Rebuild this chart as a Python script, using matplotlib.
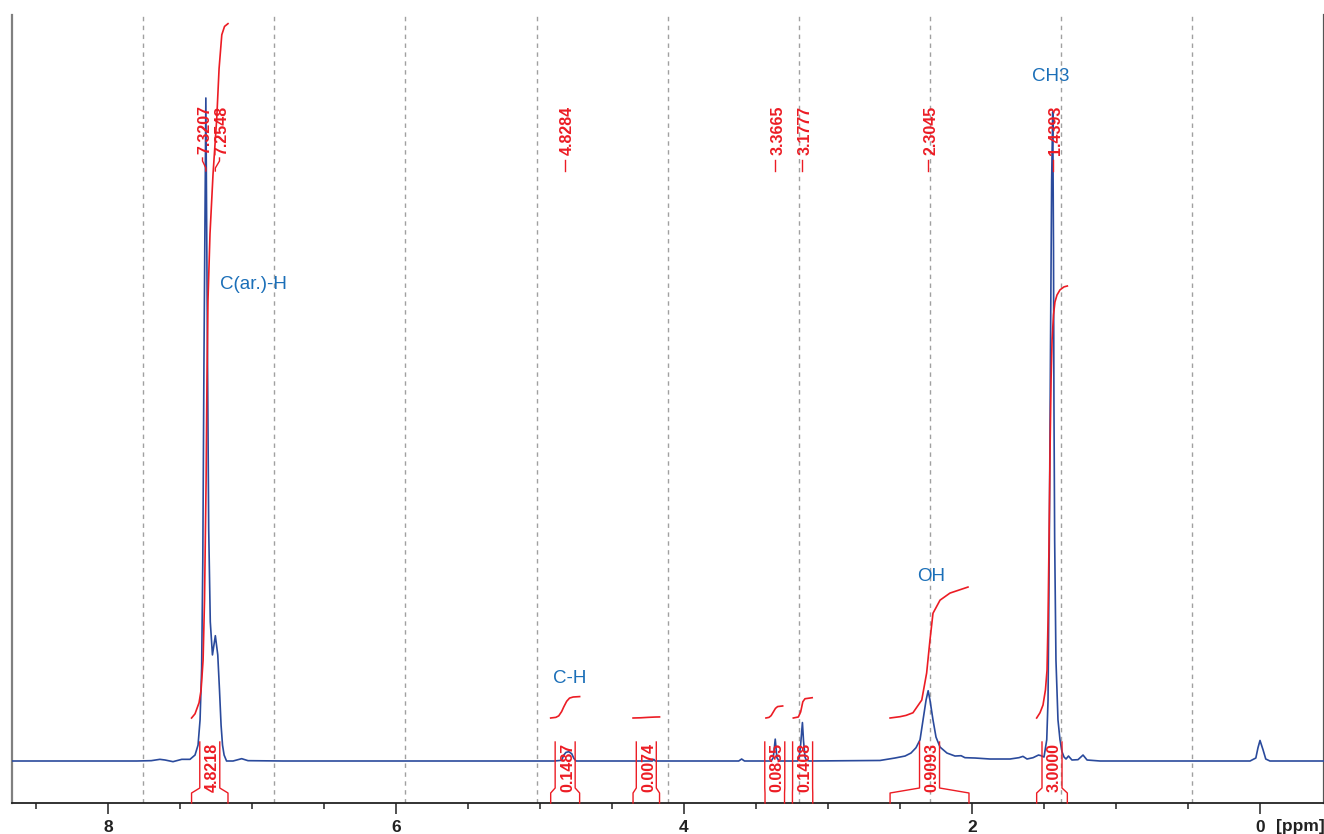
import matplotlib
matplotlib.use("Agg")
import matplotlib.pyplot as plt
from matplotlib.ticker import MultipleLocator, FixedLocator
import matplotlib.transforms as mtransforms

plt.rcParams['font.family'] = ['Liberation Sans', 'DejaVu Sans']

# ---------------- data ----------------
# 1H NMR spectrum (chemical shift in ppm, relative intensity, main peak = 100)
spec_ppm = [8.667, 7.80, 7.70, 7.64, 7.604, 7.549, 7.488, 7.431, 7.396, 7.375, 7.361,
            7.350, 7.342, 7.334, 7.3207, 7.309, 7.301, 7.290, 7.275, 7.2548, 7.238,
            7.226, 7.215, 7.205, 7.194, 7.177, 7.132, 7.072, 7.028, 6.785,
            4.90, 4.85, 4.835, 4.82, 4.80, 4.78, 4.765, 4.75,
            4.22, 4.21, 4.20, 3.62, 3.60, 3.58,
            3.395, 3.380, 3.3665, 3.355, 3.34,
            3.21, 3.20, 3.19, 3.1777, 3.17, 3.16, 3.15, 3.13,
            2.639, 2.535, 2.465, 2.424, 2.389, 2.361, 2.340, 2.319, 2.3045, 2.292,
            2.271, 2.250, 2.222, 2.174, 2.118, 2.076, 2.049, 1.979, 1.875, 1.736,
            1.674, 1.646, 1.618, 1.576, 1.538, 1.521,
            1.500, 1.481, 1.472, 1.463, 1.455, 1.447, 1.4393, 1.434, 1.431, 1.426,
            1.417, 1.403, 1.389, 1.375, 1.361, 1.347, 1.330, 1.306, 1.264, 1.229,
            1.201, 1.111,
            0.069, 0.029, 0.014, 0.0, -0.021, -0.040, -0.069, -0.441]
spec_int = [0.0, 0.0, 0.05, 0.25, 0.15, -0.1, 0.25, 0.25, 0.9, 2.4, 6.2,
            14.0, 30.0, 60.0, 100.0, 60.0, 35.0, 21.0, 16.0, 18.9, 16.0,
            10.7, 5.4, 2.4, 0.9, 0.0, 0.0, 0.35, 0.05, 0.0,
            0.0, 0.1, 0.9, 1.3, 1.4, 1.1, 0.4, 0.0,
            0.0, 0.25, 0.0, 0.0, 0.3, 0.0,
            0.0, 0.5, 3.3, 0.5, 0.0,
            0.0, 0.6, 2.5, 5.8, 3.0, 0.6, 0.1, 0.0,
            0.08, 0.45, 0.75, 1.2, 2.0, 3.2, 6.2, 9.2, 10.6, 9.2,
            6.2, 3.6, 2.1, 1.2, 0.75, 0.8, 0.5, 0.45, 0.3, 0.3,
            0.5, 0.7, 0.3, 0.5, 0.9, 0.8,
            0.6, 3.2, 9.2, 33.3, 62.0, 87.6, 97.9, 77.0, 54.0, 33.3,
            15.2, 6.2, 3.2, 1.4, 0.6, 0.3, 0.75, 0.15, 0.2, 0.9,
            0.15, 0.0,
            0.0, 0.45, 2.0, 3.1, 1.7, 0.3, 0.0, 0.0]

# picked peaks
peak_ppm = [7.3207, 7.2548, 4.8284, 3.3665, 3.1777, 2.3045, 1.4393]
peak_label_ppm = [7.344, 7.226, 4.8284, 3.3665, 3.1777, 2.3045, 1.4393]

# integrals: value, range (ppm), and running-integral curve shape (ppm, fraction)
int_values = [4.8218, 0.1487, 0.0074, 0.0835, 0.1408, 0.9093, 3.0000]
int_lo = [7.420, 4.926, 4.354, 3.4375, 3.247, 2.569, 1.551]
int_hi = [7.167, 4.725, 4.170, 3.302, 3.106, 2.021, 1.338]
int_curve_ppm = [
    [7.420, 7.396, 7.368, 7.354, 7.340, 7.330, 7.319, 7.313, 7.306, 7.292, 7.271, 7.245, 7.229, 7.210, 7.191, 7.167],
    [4.926, 4.890, 4.870, 4.850, 4.835, 4.815, 4.795, 4.770, 4.725],
    [4.354, 4.300, 4.250, 4.200, 4.170],
    [3.431, 3.410, 3.395, 3.380, 3.365, 3.350, 3.315],
    [3.241, 3.206, 3.190, 3.175, 3.160, 3.110],
    [2.569, 2.500, 2.458, 2.410, 2.349, 2.315, 2.292, 2.271, 2.222, 2.153, 2.028],
    [1.551, 1.528, 1.507, 1.490, 1.479, 1.472, 1.465, 1.458, 1.451, 1.444, 1.434, 1.424, 1.410, 1.389, 1.361, 1.338],
]
int_curve_frac = [
    [0.0, 0.006, 0.022, 0.040, 0.083, 0.170, 0.342, 0.486, 0.601, 0.697, 0.783, 0.864, 0.935, 0.984, 0.996, 1.0],
    [0.0, 0.03, 0.10, 0.30, 0.52, 0.78, 0.93, 0.98, 1.0],
    [0.0, 0.2, 0.6, 0.9, 1.0],
    [0.0, 0.05, 0.2, 0.5, 0.8, 0.95, 1.0],
    [0.0, 0.05, 0.3, 0.8, 0.95, 1.0],
    [0.0, 0.01, 0.02, 0.04, 0.137, 0.344, 0.595, 0.80, 0.90, 0.954, 1.0],
    [0.0, 0.012, 0.030, 0.065, 0.111, 0.227, 0.412, 0.620, 0.782, 0.875, 0.933, 0.963, 0.979, 0.991, 0.998, 1.0],
]

# assignments
assign_text = ["C(ar.)-H", "CH3", "OH", "C-H"]
assign_ppm = [6.99, 1.451, 2.285, 4.792]
assign_y = [71.8, 103.3, 27.9, 12.4]

xticks_major = [8, 6, 4, 2, 0]
xtick_labels = ["8", "6", "4", "2", "0"]

# ---------------- style ----------------
BLUE = '#2a4a9c'
RED = '#ec1c24'
LBLUE = '#1b6fb8'
X_LEFT, X_RIGHT = 8.667, -0.441
Y_BOT, Y_TOP = -6.335, 112.52
INT_BASE = 6.486
INT_SCALE = 21.72
PX_PER_PPM = 144.0
TXT_SHIFT = 2.5 / PX_PER_PPM   # visual centring of rotated digits

fig = plt.figure(figsize=(13.24, 8.34), dpi=100)
ax = fig.add_axes([12 / 1324, 1 - 803 / 834, (1323.5 - 12) / 1324, (803 - 15) / 834])
ax.set_xlim(X_LEFT, X_RIGHT)
ax.set_ylim(Y_BOT, Y_TOP)

# dashed grid: 10 equal divisions
for k in range(1, 10):
    gx = X_LEFT + (X_RIGHT - X_LEFT) * k / 10
    ax.axvline(gx, color='#a0a0a0', lw=1.0, ls=(0, (3.2, 3.2)), zorder=1)

# spectrum
ax.plot(spec_ppm, spec_int, color=BLUE, lw=1.2, zorder=3, solid_joinstyle='round')

# integral curves
for val, cp, cf in zip(int_values, int_curve_ppm, int_curve_frac):
    ys = [INT_BASE + val * INT_SCALE * f for f in cf]
    ax.plot(cp, ys, color=RED, lw=1.2, zorder=4)

trans = mtransforms.blended_transform_factory(ax.transData, ax.transAxes)

def yf(px):
    return (803 - px) / 788.0

# integral brackets + labels
inner_half = 10.0 / PX_PER_PPM
for val, lo, hi in zip(int_values, int_lo, int_hi):
    c = (lo + hi) / 2
    il, ir = c + inner_half, c - inner_half
    ax.plot([lo, lo, il, il], [0, yf(793), yf(788), yf(742)], color=RED, lw=1.0,
            transform=trans, zorder=5, clip_on=False)
    ax.plot([hi, hi, ir, ir], [0, yf(793), yf(788), yf(742)], color=RED, lw=1.0,
            transform=trans, zorder=5, clip_on=False)
    ax.text(c - TXT_SHIFT, yf(767), f"{val:.4f}", rotation=90, ha='center', va='center',
            color=RED, fontsize=11.5, fontweight='bold', transform=trans, zorder=6)

# peak labels
for p, lp in zip(peak_ppm, peak_label_ppm):
    ax.text(lp - TXT_SHIFT, yf(130), f"{p:.4f}", rotation=90, ha='center', va='center',
            color=RED, fontsize=11.5, fontweight='bold', transform=trans, zorder=6)
    if abs(lp - p) < 1e-6:
        ax.plot([p, p], [yf(160), yf(171)], color=RED, lw=1.0, transform=trans, zorder=6)
    else:
        ax.plot([lp, lp, p, p], [yf(158), yf(161), yf(168), yf(171)], color=RED, lw=1.0,
                transform=trans, zorder=6)

# assignment labels
for t, xp, yv in zip(assign_text, assign_ppm, assign_y):
    ax.text(xp, yv, t, ha='center', va='center', color=LBLUE, fontsize=13.5, zorder=7)

# axes styling
ax.spines['top'].set_visible(False)
ax.spines['left'].set_color('#808080')
ax.spines['left'].set_linewidth(1.6)
ax.spines['right'].set_color('#555555')
ax.spines['right'].set_linewidth(1.6)
ax.spines['bottom'].set_color('#222222')
ax.spines['bottom'].set_linewidth(1.3)
ax.set_yticks([])
ax.xaxis.set_major_locator(FixedLocator(xticks_major))
ax.set_xticklabels(xtick_labels)
ax.xaxis.set_minor_locator(MultipleLocator(0.5))
ax.tick_params(axis='x', which='major', length=8, width=1.1, direction='out', pad=4.5,
               labelsize=12.5, colors='#222222')
ax.tick_params(axis='x', which='minor', length=4.6, width=1.1, direction='out', colors='#222222')
for lab in ax.get_xticklabels():
    lab.set_fontweight('bold')

fig.text(1300 / 1324, 1 - 827 / 834, "[ppm]", ha='center', va='center',
         fontsize=12.5, fontweight='bold', color='#222222')

fig.savefig("out.png", dpi=100)
